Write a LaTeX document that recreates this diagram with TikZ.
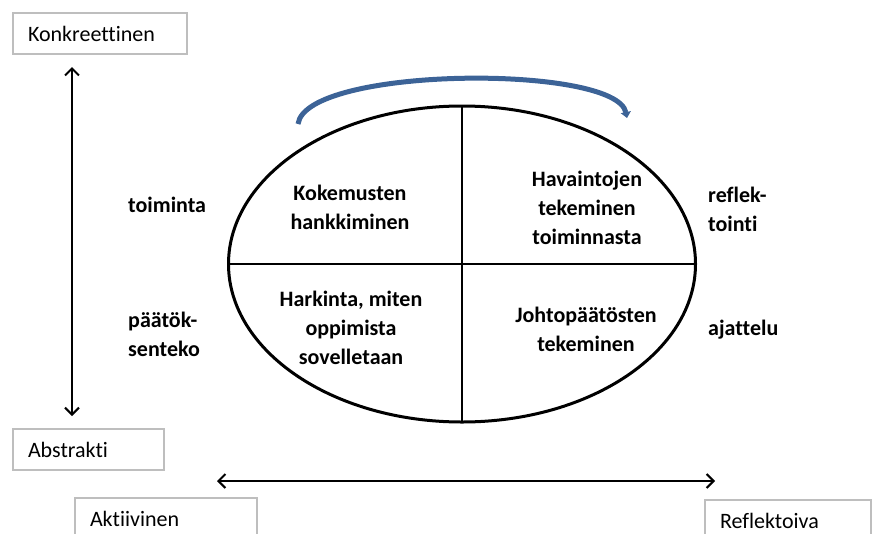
\documentclass[tikz,border=0pt]{standalone}
\usepackage{fontspec}
\setmainfont[Ligatures=CommonOff]{Carlito}
\usetikzlibrary{shapes.geometric,arrows.meta}
\definecolor{arcblue}{HTML}{3C6397}
\definecolor{boxgray}{HTML}{BEBEBE}
\tikzset{ lbl/.style = { rectangle % corner box
        , draw = boxgray
        , line width = 2pt
        , anchor = north west
        , minimum height = 41pt
        , inner xsep = 15pt
        , text width = #1
        , align = left
        , font = \fontsize{22}{29}\selectfont
        }
        , q/.style = { align = center % quadrant text
        , font = \fontsize{22}{29}\selectfont\bfseries
        }
        , side/.style = { align = left % side word
        , inner xsep = 0pt
        , font = \fontsize{22}{29}\selectfont\bfseries
        }
        , axis/.style = { line width = 2pt % two-headed axis
        , {Straight Barb[length=7pt,width=14pt]}-{Straight Barb[length=7pt,width=14pt]}
        }
        }

\begin{document}
\begin{tikzpicture}[x=1pt, y=-1pt]
        \useasboundingbox (0,0) rectangle (875,533);
        \clip (0,0) rectangle (875,533);

        % corner boxes
        \node [lbl=144pt] (konk) at (12,12) {Konkreettinen};
        \node [lbl=121pt] (abs) at (12,428) {Abstrakti};
        \node [lbl=152pt] (akt) at (74,497) {Aktiivinen};
        \node [lbl=136pt] (ref) at (704,499) {Reflektoiva};

        % axes
        \coordinate (vTop) at (72,67);
        \coordinate (vBot) at (72,416);
        \coordinate (hL) at (217,481);
        \coordinate (hR) at (715,481);
        \draw [axis] (vTop) -- (vBot);
        \draw [axis] (hL) -- (hR);

        % cycle
        \node [draw, ellipse, line width=3pt, outer sep=0pt, inner sep=0pt,
               minimum width=467pt, minimum height=316pt] (cycle) at (462,264) {};
        \draw [line width=1.5pt] (cycle.north) -- (cycle.south);
        \draw [line width=1.5pt] (cycle.west) -- (cycle.east);

        \coordinate (arcL) at (298,124);
        \coordinate (arcR) at (627,118);
        \draw [arcblue, line width=5pt, -{Triangle[length=6pt,width=10pt]}]
              (arcL) .. controls (306,66) and (616,64) .. (arcR);

        % quadrants
        \node [q] (kok) at (350,207) {Kokemusten\\hankkiminen};
        \node [q] (hav) at (587,208) {Havaintojen\\tekeminen\\toiminnasta};
        \node [q] (hark) at (351,328) {Harkinta, miten\\oppimista\\sovelletaan};
        \node [q] (joh) at (586,329) {Johtopäätösten\\tekeminen};

        % side words
        \node [side, anchor=base west] (toim) at (128,212) {toiminta};
        \node [side, anchor=west] (paat) at (128,334) {päätök-\\senteko};
        \node [side, anchor=west] (refl) at (708,209) {reflek-\\tointi};
        \node [side, anchor=base west] (ajat) at (708,335) {ajattelu};
\end{tikzpicture}
\end{document}
